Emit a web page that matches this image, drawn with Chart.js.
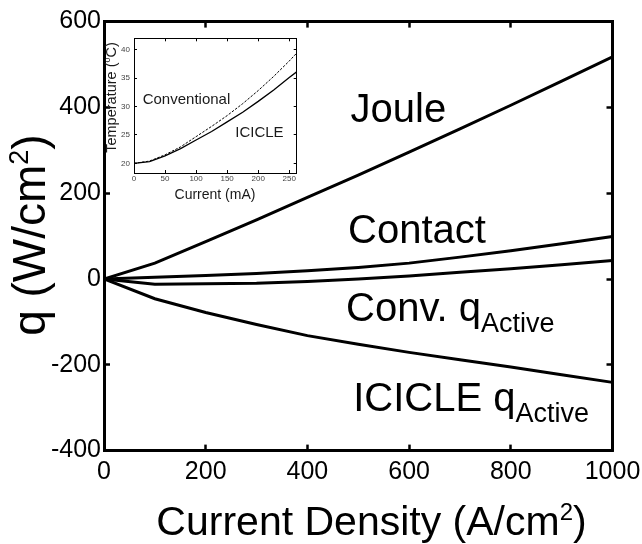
<!DOCTYPE html>
<html>
<head>
<meta charset="utf-8">
<script src="https://cdn.jsdelivr.net/npm/chart.js@4/dist/chart.umd.min.js"></script>
<style>
  html, body { margin: 0; padding: 0; background: #fff; }
  #wrap { position: relative; width: 642px; height: 544px; }
  #main { position: absolute; left: 0; top: 0; }
  #inset { position: absolute; left: 105px; top: 30px; }
</style>
</head>
<body>
<div id="wrap">
  <canvas id="main" width="642" height="544"></canvas>
  <canvas id="inset" width="200" height="180"></canvas>
</div>
<script>
// Heat flux terms vs. current density (W/cm^2)
const currentDensity = [0, 100, 200, 300, 400, 500, 600, 700, 800, 900, 1000];
const jouleHeat      = [0, 37, 87, 138, 190, 242, 296, 350, 405, 461, 518];
const contactHeat    = [0, 4, 8, 13, 19, 27, 37, 51, 66, 82, 99];
const convActive     = [0, -12, -11, -10, -6, 0, 7, 16, 24, 33, 43];
const icicleActive   = [0, -46, -78, -106, -132, -152, -171, -188, -205, -223, -241];
const densityTicks   = [0, 200, 400, 600, 800, 1000];
const fluxTicks      = [-400, -200, 0, 200, 400, 600];

// Inset: device temperature vs. drive current
const insetCurrent     = [0, 25, 50, 75, 100, 125, 150, 175, 200, 225, 250, 262];
const conventionalTemp = [20, 20.4, 21.5, 22.9, 24.7, 26.5, 28.4, 30.5, 32.8, 35.3, 38.0, 39.4];
const icicleTemp       = [20, 20.3, 21.3, 22.6, 24.1, 25.6, 27.3, 29.0, 30.9, 32.9, 35.1, 36.1];
const currentTicks     = [0, 50, 100, 150, 200, 250];
const tempTicks        = [20, 25, 30, 35, 40];

const FAMILY = "'Liberation Sans', Arial, Helvetica, sans-serif";
Chart.defaults.font.family = FAMILY;

function pairs(xs, ys) { return ys.map((v, i) => ({ x: xs[i], y: v })); }
const plainNumber = v => String(v);

// Draw a sequence of text runs (with super/subscripts) along one baseline.
function drawRuns(ctx, runs, x, y, align) {
  let total = 0;
  runs.forEach(r => { ctx.font = r.size + 'px ' + FAMILY; total += ctx.measureText(r.text).width; });
  let cx = align === 'center' ? x - total / 2 : x;
  ctx.textAlign = 'left';
  ctx.textBaseline = 'alphabetic';
  runs.forEach(r => {
    ctx.font = r.size + 'px ' + FAMILY;
    ctx.fillText(r.text, cx, y - (r.rise || 0));
    cx += ctx.measureText(r.text).width;
  });
}

const curveLabels = [
  { x: 485, y: 367,  runs: [{ text: 'Joule', size: 40 }] },
  { x: 480, y: 83,   runs: [{ text: 'Contact', size: 40 }] },
  { x: 476, y: -98,  runs: [{ text: 'Conv. q', size: 40 }, { text: 'Active', size: 27, rise: -11 }] },
  { x: 490, y: -308, runs: [{ text: 'ICICLE q', size: 40 }, { text: 'Active', size: 27, rise: -11 }] }
];

const mainText = {
  id: 'mainText',
  afterDraw(chart) {
    const { ctx, scales: { x, y }, chartArea } = chart;
    ctx.save();
    ctx.fillStyle = '#000';
    curveLabels.forEach(l => drawRuns(ctx, l.runs, x.getPixelForValue(l.x), y.getPixelForValue(l.y), 'left'));
    drawRuns(ctx, [
      { text: 'Current Density (A/cm', size: 41 },
      { text: '2', size: 24, rise: 15 },
      { text: ')', size: 41 }
    ], 371.5, 535, 'center');
    ctx.translate(44.6, (chartArea.top + chartArea.bottom) / 2 - 1);
    ctx.rotate(-Math.PI / 2);
    drawRuns(ctx, [
      { text: 'q (W/cm', size: 46 },
      { text: '2', size: 27, rise: 17 },
      { text: ')', size: 46 }
    ], 0, 0, 'center');
    ctx.restore();
  }
};

function frameAxis(pos, extra) {
  return Object.assign({
    position: pos,
    border: { display: true, width: 3, color: '#000' },
    grid: { drawOnChartArea: false, drawTicks: true, tickLength: -6, tickWidth: 2.5, color: '#000' }
  }, extra);
}

const lineStyle = { borderColor: '#000', borderWidth: 3, pointRadius: 0, tension: 0, fill: false };

new Chart(document.getElementById('main'), {
  type: 'line',
  data: {
    datasets: [
      Object.assign({ label: 'Joule', data: pairs(currentDensity, jouleHeat) }, lineStyle),
      Object.assign({ label: 'Contact', data: pairs(currentDensity, contactHeat) }, lineStyle),
      Object.assign({ label: 'Conv. qActive', data: pairs(currentDensity, convActive) }, lineStyle),
      Object.assign({ label: 'ICICLE qActive', data: pairs(currentDensity, icicleActive) }, lineStyle)
    ]
  },
  options: {
    responsive: false,
    animation: false,
    events: [],
    layout: { padding: 0 },
    plugins: { legend: { display: false }, tooltip: { enabled: false } },
    scales: {
      x: frameAxis('bottom', {
        type: 'linear', min: 0, max: 1000,
        afterBuildTicks: s => { s.ticks = densityTicks.map(v => ({ value: v })); },
        afterFit: s => { s.height = 93.4; s.paddingLeft = 0; s.paddingRight = 0; },
        ticks: { color: '#000', font: { size: 25 }, padding: 13, maxRotation: 0, autoSkip: false, callback: plainNumber }
      }),
      x2: frameAxis('top', {
        type: 'linear', min: 0, max: 1000,
        afterBuildTicks: s => { s.ticks = densityTicks.map(v => ({ value: v })); },
        afterFit: s => { s.height = 21.6; },
        ticks: { display: false }
      }),
      y: frameAxis('left', {
        type: 'linear', min: -400, max: 600,
        afterBuildTicks: s => { s.ticks = fluxTicks.map(v => ({ value: v })); },
        afterFit: s => { s.width = 104; s.paddingTop = 0; s.paddingBottom = 0; },
        ticks: { color: '#000', font: { size: 25 }, padding: 9, autoSkip: false, callback: plainNumber }
      }),
      y2: frameAxis('right', {
        type: 'linear', min: -400, max: 600,
        afterBuildTicks: s => { s.ticks = fluxTicks.map(v => ({ value: v })); },
        afterFit: s => { s.width = 29.5; },
        ticks: { display: false }
      })
    }
  },
  plugins: [mainText]
});

// ---- inset ----
const insetLabels = [
  { x: 14, y: 30.4, runs: [{ text: 'Conventional', size: 15 }] },
  { x: 163, y: 24.6, runs: [{ text: 'ICICLE', size: 15 }] }
];

const insetText = {
  id: 'insetText',
  afterDraw(chart) {
    const { ctx, scales: { x, y } } = chart;
    ctx.save();
    ctx.fillStyle = '#1a1a1a';
    insetLabels.forEach(l => drawRuns(ctx, l.runs, x.getPixelForValue(l.x), y.getPixelForValue(l.y), 'left'));
    drawRuns(ctx, [{ text: 'Current (mA)', size: 14 }], 110, 169, 'center');
    ctx.translate(11.1, 67.5);
    ctx.rotate(-Math.PI / 2);
    drawRuns(ctx, [
      { text: 'Temperature (', size: 14.5 },
      { text: 'o', size: 9, rise: 6 },
      { text: 'C)', size: 14.5 }
    ], 0, 0, 'center');
    ctx.restore();
  }
};

function insetAxis(pos, extra) {
  return Object.assign({
    position: pos,
    border: { display: true, width: 1, color: '#000' },
    grid: { drawOnChartArea: false, drawTicks: true, tickLength: -3, tickWidth: 1, color: '#000' }
  }, extra);
}

new Chart(document.getElementById('inset'), {
  type: 'line',
  data: {
    datasets: [
      { label: 'Conventional', data: pairs(insetCurrent, conventionalTemp), borderColor: '#000',
        borderWidth: 1, borderDash: [2.5, 1.5], pointRadius: 0, fill: false },
      { label: 'ICICLE', data: pairs(insetCurrent, icicleTemp), borderColor: '#000',
        borderWidth: 1.3, pointRadius: 0, fill: false }
    ]
  },
  options: {
    responsive: false,
    animation: false,
    events: [],
    layout: { padding: 0 },
    plugins: { legend: { display: false }, tooltip: { enabled: false } },
    scales: {
      x: insetAxis('bottom', {
        type: 'linear', min: 0, max: 262,
        afterBuildTicks: s => { s.ticks = currentTicks.map(v => ({ value: v })); },
        afterFit: s => { s.height = 37; s.paddingLeft = 0; s.paddingRight = 0; },
        ticks: { color: '#444', font: { size: 8 }, padding: 4, maxRotation: 0, autoSkip: false, callback: plainNumber }
      }),
      x2: insetAxis('top', {
        type: 'linear', min: 0, max: 262,
        afterBuildTicks: s => { s.ticks = currentTicks.map(v => ({ value: v })); },
        afterFit: s => { s.height = 8.3; },
        ticks: { display: false }
      }),
      y: insetAxis('left', {
        type: 'linear', min: 18.3, max: 42,
        afterBuildTicks: s => { s.ticks = tempTicks.map(v => ({ value: v })); },
        afterFit: s => { s.width = 29; s.paddingTop = 0; s.paddingBottom = 0; },
        ticks: { color: '#444', font: { size: 8 }, padding: 7, autoSkip: false, callback: plainNumber }
      }),
      y2: insetAxis('right', {
        type: 'linear', min: 18.3, max: 42,
        afterBuildTicks: s => { s.ticks = tempTicks.map(v => ({ value: v })); },
        afterFit: s => { s.width = 8.3; },
        ticks: { display: false }
      })
    }
  },
  plugins: [insetText]
});
</script>
</body>
</html>
